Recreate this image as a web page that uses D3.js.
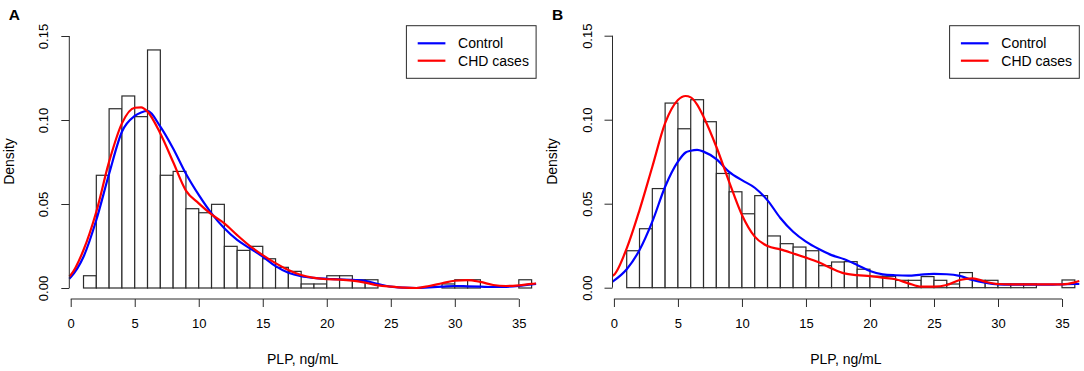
<!DOCTYPE html>
<html>
<head>
<meta charset="utf-8">
<script src="https://cdn.jsdelivr.net/npm/d3@7"></script>
<style>
  body { margin: 0; background: #fff; }
  svg { display: block; font-family: 'Liberation Sans', Arial, sans-serif; }
</style>
</head>
<body>
<div id="svg_container"></div>
<script>
// histogram bins (left edge, width 1)
var bin_start = [0, 1, 2, 3, 4, 5, 6, 7, 8, 9, 10, 11, 12, 13, 14, 15, 16, 17,
  18, 19, 20, 21, 22, 23, 24, 25, 26, 27, 28, 29, 30, 31, 32, 33, 34, 35];

var hist_a = [0, 0.0073, 0.0671, 0.1067, 0.1143, 0.102, 0.1417, 0.0671, 0.0694, 0.0472,
  0.0448, 0.0498, 0.0248, 0.0224, 0.0248, 0.0174, 0.0123, 0.0099, 0.0024, 0.0024,
  0.0073, 0.0073, 0.0049, 0.0049, 0, 0, 0, 0, 0, 0.0024, 0.0049, 0.0049, 0, 0, 0, 0.0049];

var hist_b = [0, 0.022, 0.0351, 0.059, 0.1099, 0.0946, 0.1119, 0.0988, 0.068, 0.0571,
  0.044, 0.0548, 0.0308, 0.0262, 0.0242, 0.022, 0.0131, 0.0153, 0.0155, 0.011,
  0.0068, 0.0068, 0.0044, 0.0044, 0.0066, 0.0044, 0.0022, 0.009, 0.0044, 0.0044,
  0.0022, 0.0022, 0.0022, 0, 0, 0.0046];

// density curves, panel A
var dens_x_a = [-0.11, 0, 1, 2, 3, 4, 5, 5.5, 6, 7, 8, 9, 10, 11, 12, 13, 14, 15, 16, 17, 18,
  19, 20, 21, 22, 23, 24, 25, 26, 27, 28, 29, 30, 31, 32, 33, 34, 35, 36, 36.35];
var control_a = [0.0055, 0.0064, 0.0186, 0.0405, 0.068, 0.093, 0.1024, 0.1045, 0.1054, 0.096,
  0.083, 0.068, 0.0554, 0.0444, 0.0355, 0.0286, 0.0236, 0.0187, 0.013, 0.0091, 0.007,
  0.006, 0.0055, 0.0052, 0.0048, 0.0042, 0.0024, 0.0008, 0.0002, 0, 0.0004, 0.0008,
  0.0012, 0.001, 0.0008, 0.0006, 0.0007, 0.0012, 0.0022, 0.0024];
var cases_a = [0.0068, 0.0077, 0.0226, 0.0454, 0.0752, 0.098, 0.1073, 0.1075, 0.105, 0.092,
  0.075, 0.058, 0.0504, 0.0438, 0.0385, 0.0315, 0.025, 0.0196, 0.0148, 0.0107, 0.0077,
  0.006, 0.0052, 0.005, 0.0044, 0.0032, 0.0016, 0.0008, 0.0002, 0, 0.0012, 0.0028,
  0.0043, 0.0047, 0.0036, 0.0018, 0.0012, 0.0016, 0.0025, 0.0027];

// density curves, panel B
var dens_x_b = [-0.11, 0, 1, 2, 3, 4, 5, 5.6, 6, 6.5, 7, 8, 9, 10, 11, 12, 13, 14, 15, 16, 17,
  18, 19, 20, 21, 22, 23, 24, 25, 26, 27, 28, 29, 30, 31, 32, 33, 34, 35, 36, 36.35];
var control_b = [0.0036, 0.0042, 0.011, 0.0224, 0.0393, 0.0601, 0.075, 0.0805, 0.0815, 0.082,
  0.081, 0.0765, 0.069, 0.064, 0.0595, 0.052, 0.0415, 0.0333, 0.0274, 0.023, 0.0194,
  0.0169, 0.0135, 0.0099, 0.0079, 0.0074, 0.0072, 0.0078, 0.0082, 0.008, 0.007, 0.0046,
  0.003, 0.002, 0.0018, 0.0018, 0.0018, 0.0018, 0.002, 0.0022, 0.0022];
var cases_b = [0.007, 0.0076, 0.0234, 0.0462, 0.072, 0.0979, 0.1117, 0.1141, 0.1133, 0.109,
  0.1018, 0.0839, 0.063, 0.0433, 0.0304, 0.0248, 0.0228, 0.0204, 0.0179, 0.0151, 0.0115,
  0.0085, 0.0075, 0.0069, 0.006, 0.005, 0.0026, 0.0006, 0.0006, 0.0016, 0.0046, 0.0056,
  0.0036, 0.0022, 0.002, 0.002, 0.002, 0.002, 0.002, 0.0032, 0.004];

var x_ticks = [0, 5, 10, 15, 20, 25, 30, 35];
var y_ticks = [0, 0.05, 0.1, 0.15];
var legend_keys = ['Control', 'CHD cases'];
var legend_colors = ['#0000ff', '#ff0000'];

var svg = d3.select('#svg_container')
  .append('svg')
    .attr('width', 1084)
    .attr('height', 371);

function draw_panel(p) {
  var x = d3.scaleLinear()
      .domain([-0.11, 36.35])
      .range([p.left, p.left + 466.8]);

  var y = d3.scaleLinear()
      .domain([0, 0.15])
      .range([p.y0, p.y0 - 252]);

  var g = svg.append('g');

  // histogram bars
  g.append('g')
    .selectAll('rect')
    .data(p.hist)
    .enter().append('rect')
      .attr('x', function(d, i) { return x(bin_start[i]); })
      .attr('y', function(d) { return y(d); })
      .attr('width', function(d, i) { return x(bin_start[i] + 1) - x(bin_start[i]); })
      .attr('height', function(d) { return y(0) - y(d); })
      .attr('fill', '#fff')
      .attr('stroke', '#2b2b2b')
      .attr('stroke-width', 1.2);

  // density lines
  var line = d3.line()
      .x(function(d, i) { return x(this_x[i]); })
      .y(function(d) { return y(d); })
      .curve(d3.curveMonotoneX);

  var this_x = p.dx;
  [p.control, p.cases].forEach(function(s, k) {
    g.append('path')
      .datum(s)
      .attr('fill', 'none')
      .attr('stroke', legend_colors[k])
      .attr('stroke-width', 2.2)
      .attr('d', line);
  });

  // x axis
  var ax = g.append('g')
      .attr('transform', 'translate(0,299)')
      .call(d3.axisBottom(x).tickValues(x_ticks).tickSize(8).tickPadding(12).tickFormat(d3.format('d')));
  ax.select('.domain').remove();
  ax.append('line')
      .attr('x1', x(0)).attr('x2', x(35))
      .attr('stroke', 'currentColor');
  ax.attr('font-size', 13).attr('font-family', null).attr('color', '#2b2b2b');
  ax.selectAll('text').attr('fill', '#000');

  // y axis
  var ay = g.append('g')
      .attr('transform', 'translate(' + p.left + ',0)')
      .call(d3.axisLeft(y).tickValues(y_ticks).tickSize(8).tickFormat(d3.format('.2f')));
  ay.select('.domain').remove();
  ay.append('line')
      .attr('y1', y(0)).attr('y2', y(0.15))
      .attr('stroke', 'currentColor');
  ay.attr('font-size', 13).attr('font-family', null).attr('color', '#2b2b2b');
  ay.selectAll('text')
      .attr('x', null)
      .attr('fill', '#000')
      .attr('text-anchor', 'middle')
      .attr('dy', '0.35em')
      .attr('transform', 'translate(-25.5,0) rotate(-90)');

  // axis titles
  g.append('text')
      .attr('x', (x.range()[0] + x.range()[1]) / 2)
      .attr('y', 363.5)
      .attr('text-anchor', 'middle')
      .attr('font-size', 14)
      .text('PLP, ng/mL');

  g.append('text')
      .attr('transform', 'translate(' + (p.left - 60) + ',161.5) rotate(-90)')
      .attr('dy', '0.35em')
      .attr('text-anchor', 'middle')
      .attr('font-size', 14)
      .text('Density');

  // panel letter
  g.append('text')
      .attr('x', p.left - 60.5)
      .attr('y', 20)
      .attr('font-size', 15.5)
      .attr('font-weight', 'bold')
      .text(p.label);

  // legend
  var lx = x.range()[1] - 129.7;
  var legend = g.append('g')
      .attr('transform', 'translate(' + lx + ',25.7)');

  legend.append('rect')
      .attr('width', 129.7)
      .attr('height', 52.6)
      .attr('fill', '#fff')
      .attr('stroke', '#2b2b2b')
      .attr('stroke-width', 1);

  var item = legend.selectAll('g')
    .data(legend_keys)
    .enter().append('g')
      .attr('transform', function(d, i) { return 'translate(0,' + (17.6 + i * 17.4) + ')'; });

  item.append('line')
      .attr('x1', 11.3)
      .attr('x2', 39)
      .attr('stroke', function(d, i) { return legend_colors[i]; })
      .attr('stroke-width', 2.2);

  item.append('text')
      .attr('x', 51.7)
      .attr('dy', '0.35em')
      .attr('font-size', 14)
      .text(function(d) { return d; });
}

draw_panel({ label: 'A', left: 69.3, y0: 288, hist: hist_a, dx: dens_x_a, control: control_a, cases: cases_a });
draw_panel({ label: 'B', left: 612.5, y0: 287.7, hist: hist_b, dx: dens_x_b, control: control_b, cases: cases_b });
</script>
</body>
</html>
